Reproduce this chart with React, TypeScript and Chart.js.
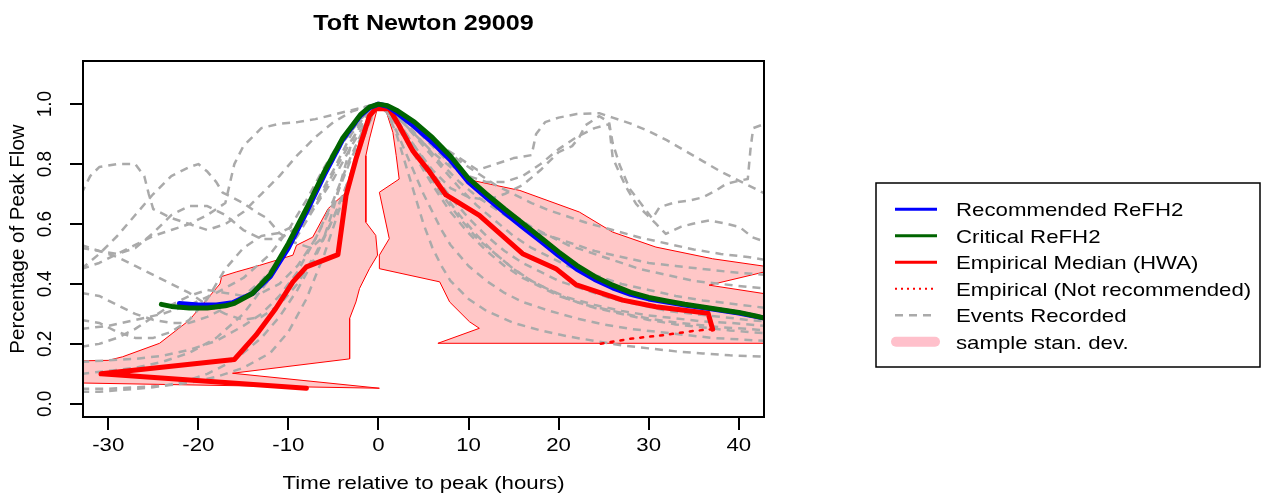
import React, { useEffect, useRef } from "react";
import { Chart, registerables } from "chart.js";
Chart.register(...registerables);

const W = 1263;
const H = 497;
const FONT = '"Liberation Sans", Arial, sans-serif';

const titleText = "Toft Newton 29009";
const xTitle = "Time relative to peak (hours)";
const yTitle = "Percentage of Peak Flow";
const xTicks = [-30, -20, -10, 0, 10, 20, 30, 40];
const yTicks = [0, 0.2, 0.4, 0.6, 0.8, 1.0];
const yTickLabels = ["0.0", "0.2", "0.4", "0.6", "0.8", "1.0"];
const legendLabels = [
  "Recommended ReFH2",
  "Critical ReFH2",
  "Empirical Median (HWA)",
  "Empirical (Not recommended)",
  "Events Recorded",
  "sample stan. dev.",
];

type P = [number, number];

const recommended: P[] = [
  [-22.1, 0.335], [-20, 0.33], [-18, 0.33], [-16.2, 0.337], [-14, 0.368], [-12, 0.425], [-10, 0.52],
  [-8, 0.64], [-6, 0.765], [-4, 0.88], [-2, 0.962], [-1, 0.988], [0, 1.0], [1, 0.993], [2, 0.972],
  [4, 0.925], [6, 0.872], [8, 0.813], [10, 0.74], [12, 0.688], [14, 0.638], [16, 0.59], [18, 0.543],
  [20, 0.495], [22, 0.45], [24, 0.415], [26, 0.387], [28, 0.365], [30, 0.35], [32, 0.34], [34, 0.33],
  [36, 0.321], [38, 0.312], [40, 0.303], [42, 0.291], [43, 0.285],
];

const critical: P[] = [
  [-24.1, 0.332], [-23, 0.325], [-21, 0.32], [-19, 0.32], [-17, 0.327], [-16, 0.335], [-14, 0.368],
  [-12, 0.432], [-10, 0.535], [-8, 0.651], [-6, 0.775], [-4, 0.885], [-2, 0.965], [-1, 0.99], [0, 1.0],
  [1, 0.995], [2, 0.98], [4, 0.94], [6, 0.888], [8, 0.826], [10, 0.752], [12, 0.7], [14, 0.65],
  [16, 0.603], [18, 0.555], [20, 0.507], [22, 0.462], [24, 0.425], [26, 0.396], [28, 0.372],
  [30, 0.355], [32, 0.343], [34, 0.332], [36, 0.323], [38, 0.314], [40, 0.305], [42, 0.292], [43, 0.285],
];

const medianHWA: P[] = [
  [-8, 0.052], [-30.8, 0.1], [-16, 0.148], [-13.6, 0.229], [-11.4, 0.318], [-9.5, 0.407], [-8, 0.457],
  [-4.5, 0.498], [-3.6, 0.695], [-2.5, 0.817], [-1, 0.961], [-0.3, 0.985], [1.2, 0.985], [2.3, 0.928],
  [3.8, 0.845], [5.7, 0.773], [7.5, 0.697], [11.2, 0.629], [16, 0.501], [19.7, 0.451], [21.9, 0.398],
  [27.1, 0.346], [30.8, 0.324], [36.6, 0.302], [37.1, 0.249],
];

const notRecommended: P[] = [
  [37.1, 0.249], [34.9, 0.243], [31.6, 0.229], [28.2, 0.218], [24.5, 0.2],
];

const bandLeft: P[] = [
  [-34, 0.143], [-30, 0.145], [-28.4, 0.157], [-24.3, 0.202], [-21, 0.279], [-17.6, 0.4], [-17.4, 0.425],
  [-15.8, 0.44], [-13.2, 0.462], [-9.5, 0.496], [-9.1, 0.529], [-7.3, 0.556], [-5.6, 0.651], [-3.6, 0.706],
  [-2.6, 0.82], [-1.7, 0.917], [-0.6, 0.978], [0, 1.0], [-1.0, 0.884], [-1.4, 0.828], [-1.4, 0.606],
  [-0.3, 0.562], [-0.1, 0.496], [-1.0, 0.451], [-2.1, 0.385], [-2.5, 0.34], [-3.2, 0.285], [-3.2, 0.15],
  [-16.2, 0.102], [0.1, 0.052], [-34, 0.07], [-34, 0.143],
];

const bandRight: P[] = [
  [0, 1.0], [2, 0.972], [4, 0.93], [6, 0.875], [8, 0.815], [10.5, 0.745], [15.7, 0.712], [22.3, 0.64],
  [26, 0.573], [30.8, 0.523], [37.1, 0.484], [44.5, 0.452], [36.7, 0.396], [44.5, 0.36], [44.5, 0.202],
  [6.6, 0.202], [11.2, 0.252], [10.1, 0.274], [7.9, 0.34], [6.8, 0.407], [0.1, 0.451], [0.1, 0.496],
  [1.2, 0.551], [0.1, 0.706], [2.3, 0.75], [1.97, 0.828], [1.6, 0.906], [0.9, 0.972], [0, 1.0],
];

const event1: P[] = [
  [-33, 0.7], [-32, 0.76], [-31, 0.79], [-29, 0.8], [-27, 0.8], [-26, 0.76], [-25.5, 0.7], [-25, 0.65],
  [-23, 0.62], [-21, 0.6], [-19, 0.58], [-17, 0.6], [-15, 0.64], [-13, 0.7], [-11, 0.76], [-9, 0.83],
  [-7, 0.89], [-5, 0.94], [-3, 0.975], [-1, 0.995], [0, 1], [1, 0.99], [3, 0.94], [5, 0.87], [7, 0.8],
  [9, 0.74], [11, 0.69], [13, 0.65], [15, 0.61], [17, 0.58], [19, 0.56], [21, 0.54], [24, 0.51],
  [27, 0.49], [30, 0.47], [33, 0.46], [36, 0.45], [39, 0.44], [43, 0.43],
];
const event2: P[] = [
  [-33, 0.45], [-31, 0.47], [-29, 0.5], [-27, 0.53], [-25, 0.56], [-23, 0.58], [-21, 0.6], [-19, 0.63],
  [-17, 0.67], [-16, 0.8], [-15, 0.86], [-13, 0.92], [-11, 0.935], [-9, 0.94], [-7, 0.95], [-5, 0.965],
  [-3, 0.98], [-1, 0.995], [0, 1], [1, 0.99], [3, 0.95], [5, 0.9], [7, 0.86], [9, 0.82], [11, 0.78],
  [13, 0.8], [15, 0.82], [17, 0.83], [17.5, 0.9], [18.5, 0.94], [20, 0.955], [22, 0.967], [24.5, 0.97],
  [26, 0.955], [28, 0.935], [30, 0.91], [32, 0.88], [34, 0.845], [36, 0.81], [38, 0.775], [40, 0.745],
  [42, 0.715], [43, 0.7],
];
const event3: P[] = [
  [-33, 0.25], [-30, 0.26], [-27, 0.28], [-24, 0.3], [-21, 0.33], [-18, 0.37], [-15, 0.42], [-12, 0.5],
  [-10, 0.58], [-8, 0.68], [-6, 0.79], [-4, 0.89], [-2, 0.96], [0, 1], [2, 0.95], [4, 0.86], [6, 0.78],
  [8, 0.72], [10, 0.69], [12, 0.68], [14, 0.7], [16, 0.73], [18, 0.78], [20, 0.84], [21.5, 0.86],
  [22.3, 0.89], [23, 0.93], [24.5, 0.96], [25.6, 0.94], [26, 0.87], [26.8, 0.795], [27.9, 0.717],
  [29.3, 0.662], [30.4, 0.618], [31.2, 0.656], [33, 0.673], [34.5, 0.678], [36, 0.689], [37.5, 0.712],
  [38.6, 0.734], [40.1, 0.745], [41, 0.75], [41.3, 0.85], [41.6, 0.92], [42.5, 0.93], [43, 0.93],
];
const event4: P[] = [
  [-33, 0.1], [-30, 0.11], [-27, 0.12], [-24, 0.14], [-21, 0.17], [-18, 0.22], [-15, 0.3], [-12, 0.42],
  [-10, 0.52], [-8, 0.64], [-6, 0.76], [-4, 0.87], [-2, 0.95], [0, 1], [2, 0.96], [4, 0.9], [6, 0.84],
  [8, 0.79], [10, 0.76], [12, 0.74], [14, 0.74], [16, 0.76], [18, 0.8], [20, 0.85], [22, 0.89],
  [24, 0.92], [25.6, 0.933], [26, 0.822], [26.8, 0.767], [27.5, 0.723], [28.6, 0.667], [29.7, 0.634],
  [30.8, 0.601], [31.9, 0.567], [33.5, 0.59], [34.9, 0.601], [36.7, 0.612], [38.6, 0.601], [40.1, 0.59],
  [41.5, 0.556], [43, 0.54],
];
const event5: P[] = [
  [-33, 0.45], [-31, 0.5], [-29, 0.56], [-27, 0.63], [-25, 0.7], [-23, 0.76], [-21, 0.79], [-20, 0.8],
  [-19, 0.775], [-18, 0.74], [-17.3, 0.705], [-15, 0.67], [-13.6, 0.64], [-12.4, 0.62], [-11, 0.57],
  [-9.5, 0.54], [-7.5, 0.52], [-6, 0.56], [-5, 0.65], [-4, 0.76], [-3, 0.87], [-2, 0.94], [-1, 0.98],
  [0, 1], [1, 0.99], [2, 0.95], [4, 0.86], [6, 0.77], [8, 0.69], [10, 0.62], [12, 0.56], [14, 0.51],
  [16, 0.47], [18, 0.44], [20, 0.41], [23, 0.38], [26, 0.35], [29, 0.33], [32, 0.31], [35, 0.3],
  [38, 0.29], [41, 0.28], [43, 0.275],
];
const event6: P[] = [
  [-33, 0.05], [-30, 0.05], [-27, 0.055], [-24, 0.06], [-21, 0.07], [-18, 0.09], [-15, 0.12], [-12, 0.17],
  [-10, 0.24], [-8, 0.35], [-6, 0.5], [-4, 0.68], [-2, 0.87], [-1, 0.95], [0, 1], [1, 0.97], [2, 0.9],
  [3, 0.8], [4, 0.7], [5, 0.6], [6, 0.52], [7, 0.46], [8, 0.41], [10, 0.35], [12, 0.31], [15, 0.27],
  [18, 0.245], [21, 0.225], [24, 0.21], [27, 0.195], [30, 0.185], [33, 0.175], [36, 0.168], [39, 0.162],
  [43, 0.157],
];
const event7: P[] = [
  [-33, 0.37], [-31, 0.36], [-29, 0.33], [-27, 0.3], [-25, 0.28], [-23, 0.27], [-21, 0.27], [-19, 0.29],
  [-17, 0.32], [-15, 0.36], [-13, 0.41], [-11, 0.48], [-9, 0.56], [-7, 0.66], [-5, 0.77], [-3, 0.88],
  [-1, 0.97], [0, 1], [1, 0.98], [3, 0.9], [5, 0.8], [7, 0.71], [9, 0.63], [11, 0.56], [13, 0.5],
  [15, 0.45], [17, 0.41], [19, 0.38], [21, 0.355], [24, 0.33], [27, 0.31], [30, 0.295], [33, 0.285],
  [36, 0.275], [39, 0.27], [43, 0.26],
];
const event8: P[] = [
  [-33, 0.19], [-31, 0.2], [-29, 0.22], [-27, 0.25], [-25, 0.29], [-23, 0.33], [-21, 0.36], [-19, 0.38],
  [-17, 0.37], [-15, 0.36], [-13, 0.37], [-11, 0.4], [-9, 0.46], [-7, 0.55], [-5, 0.67], [-3, 0.82],
  [-1, 0.95], [0, 1], [1, 0.985], [3, 0.93], [5, 0.86], [7, 0.79], [9, 0.72], [11, 0.66], [13, 0.61],
  [15, 0.56], [17, 0.52], [19, 0.49], [21, 0.46], [24, 0.43], [27, 0.4], [30, 0.38], [33, 0.36],
  [36, 0.345], [39, 0.335], [43, 0.32],
];
const event9: P[] = [
  [-33, 0.14], [-30, 0.145], [-27, 0.15], [-24, 0.16], [-21, 0.18], [-18, 0.21], [-15, 0.26], [-13, 0.3],
  [-11, 0.36], [-9, 0.44], [-7, 0.55], [-5, 0.68], [-3, 0.83], [-1, 0.96], [0, 1], [1, 0.97], [2, 0.91],
  [3, 0.84], [4, 0.77], [5, 0.7], [6, 0.64], [7, 0.58], [8, 0.53], [10, 0.46], [12, 0.41], [14, 0.37],
  [16, 0.34], [19, 0.31], [22, 0.285], [25, 0.265], [28, 0.25], [31, 0.24], [34, 0.23], [37, 0.22],
  [40, 0.215], [43, 0.21],
];
const event10: P[] = [
  [-33, 0.28], [-31, 0.27], [-29, 0.24], [-27, 0.22], [-25, 0.22], [-23, 0.24], [-21, 0.28], [-19, 0.35],
  [-17, 0.45], [-15, 0.52], [-13, 0.56], [-11, 0.57], [-9, 0.6], [-7, 0.66], [-5, 0.75], [-3, 0.86],
  [-1, 0.96], [0, 1], [1, 0.99], [3, 0.95], [5, 0.89], [7, 0.83], [9, 0.77], [11, 0.72], [13, 0.67],
  [15, 0.63], [17, 0.59], [19, 0.56], [21, 0.53], [23, 0.51], [26, 0.48], [29, 0.45], [32, 0.43],
  [35, 0.41], [38, 0.4], [41, 0.39], [43, 0.385],
];
const event11: P[] = [
  [-33, 0.52], [-31, 0.51], [-29, 0.49], [-27, 0.46], [-25, 0.43], [-23, 0.4], [-21, 0.37], [-19, 0.33],
  [-17, 0.3], [-15, 0.28], [-13, 0.29], [-11, 0.33], [-9, 0.4], [-7, 0.5], [-5, 0.62], [-3, 0.77],
  [-2, 0.86], [-1, 0.94], [0, 1], [1, 0.98], [2, 0.93], [4, 0.83], [6, 0.73], [8, 0.64], [10, 0.57],
  [12, 0.51], [14, 0.46], [16, 0.42], [18, 0.39], [20, 0.36], [23, 0.33], [26, 0.31], [29, 0.29],
  [32, 0.275], [35, 0.265], [38, 0.255], [41, 0.25], [43, 0.245],
];
const event12: P[] = [
  [-33, 0.04], [-31, 0.04], [-29, 0.045], [-27, 0.05], [-25, 0.055], [-23, 0.065], [-21, 0.08], [-19, 0.1],
  [-17, 0.13], [-15, 0.17], [-13, 0.22], [-11, 0.29], [-9, 0.38], [-7, 0.49], [-5, 0.62], [-3, 0.77],
  [-2, 0.86], [-1, 0.94], [0, 1], [1, 0.98], [2, 0.94], [3, 0.89], [5, 0.79], [7, 0.7], [9, 0.62],
  [11, 0.55], [13, 0.5], [15, 0.45], [17, 0.41], [19, 0.38], [21, 0.35], [24, 0.32], [27, 0.3],
  [30, 0.28], [33, 0.265], [36, 0.255], [39, 0.245], [43, 0.235],
];
const event13: P[] = [
  [-33, 0.53], [-31, 0.51], [-29, 0.5], [-27, 0.52], [-25, 0.57], [-23, 0.63], [-21, 0.66], [-19, 0.66],
  [-17, 0.63], [-15, 0.58], [-13, 0.55], [-11, 0.55], [-9, 0.59], [-7, 0.67], [-5, 0.78], [-3, 0.9],
  [-1, 0.98], [0, 1], [1, 0.995], [3, 0.96], [5, 0.91], [7, 0.86], [9, 0.81], [11, 0.77], [13, 0.73],
  [15, 0.7], [17, 0.67], [19, 0.645], [21, 0.625], [23, 0.605], [26, 0.58], [29, 0.555], [32, 0.535],
  [35, 0.515], [38, 0.5], [41, 0.49], [43, 0.48],
];

const events: P[][] = [
  event1, event2, event3, event4, event5, event6, event7, event8, event9, event10, event11, event12, event13,
];

const toXY = (arr: P[]) => arr.map(([x, y]) => ({ x, y }));

function drawText(
  ctx: CanvasRenderingContext2D,
  s: string,
  x: number,
  y: number,
  font: string,
  opts: { sx?: number; sy?: number; rot?: number; align?: CanvasTextAlign } = {}
) {
  ctx.save();
  ctx.translate(x, y);
  if (opts.rot) ctx.rotate(opts.rot);
  ctx.scale(opts.sx ?? 1, opts.sy ?? 1);
  ctx.font = font;
  ctx.textAlign = opts.align ?? "left";
  ctx.textBaseline = "alphabetic";
  ctx.fillStyle = "#000";
  ctx.fillText(s, 0, 0);
  ctx.restore();
}

const SX = 1.17;

const decorPlugin = {
  id: "rdecor",
  beforeDatasetsDraw(chart: any) {
    const ctx: CanvasRenderingContext2D = chart.ctx;
    const a = chart.chartArea;
    ctx.save();
    ctx.beginPath();
    ctx.rect(a.left, a.top, a.right - a.left, a.bottom - a.top);
    ctx.clip();
    chart.data.datasets.forEach((ds: any, i: number) => {
      if (!ds.bandFill) return;
      const pts = chart.getDatasetMeta(i).data;
      ctx.beginPath();
      pts.forEach((p: any, j: number) => (j ? ctx.lineTo(p.x, p.y) : ctx.moveTo(p.x, p.y)));
      ctx.closePath();
      ctx.fillStyle = ds.bandFill;
      ctx.fill();
    });
    ctx.restore();
  },
  afterDraw(chart: any) {
    const ctx: CanvasRenderingContext2D = chart.ctx;
    const a = chart.chartArea;
    const xs = chart.scales.x;
    const ys = chart.scales.y;
    // box
    ctx.save();
    ctx.strokeStyle = "#000";
    ctx.lineWidth = 2;
    ctx.strokeRect(a.left, a.top, a.right - a.left, a.bottom - a.top);
    ctx.restore();

    const f19 = `19px ${FONT}`;
    drawText(ctx, titleText, (a.left + a.right) / 2, 29.5, `bold 21.5px ${FONT}`, { sx: SX, align: "center" });
    xTicks.forEach((v) => {
      drawText(ctx, String(v), xs.getPixelForValue(v), 451, f19, { sx: SX, align: "center" });
    });
    drawText(ctx, xTitle, (a.left + a.right) / 2, 489, f19, { sx: SX, align: "center" });
    yTicks.forEach((v, i) => {
      drawText(ctx, yTickLabels[i], 51, ys.getPixelForValue(v), f19, {
        rot: -Math.PI / 2,
        sy: 1.05,
        align: "center",
      });
    });
    drawText(ctx, yTitle, 23.5, (a.top + a.bottom) / 2, f19, { rot: -Math.PI / 2, sy: 1.05, sx: 1.08, align: "center" });

    // legend
    const L = 876, T = 183, R = 1260, B = 367;
    ctx.save();
    ctx.fillStyle = "#fff";
    ctx.fillRect(L, T, R - L, B - T);
    ctx.strokeStyle = "#000";
    ctx.lineWidth = 1.5;
    ctx.strokeRect(L, T, R - L, B - T);
    const rows = [209.3, 235.8, 262.3, 288.8, 315.3, 341.8];
    const styles = [
      { c: "#0000ff", w: 3, d: [] as number[] },
      { c: "#006400", w: 3, d: [] as number[] },
      { c: "#ff0000", w: 3, d: [] as number[] },
      { c: "#ff0000", w: 2, d: [2, 4] },
      { c: "#aaaaaa", w: 2.5, d: [8, 6] },
      { c: "#ffc0cb", w: 10, d: [] as number[] },
    ];
    styles.forEach((s, i) => {
      ctx.beginPath();
      ctx.strokeStyle = s.c;
      ctx.lineWidth = s.w;
      ctx.setLineDash(s.d);
      ctx.lineCap = i === 5 ? "round" : "butt";
      ctx.moveTo(i === 5 ? 896 : 895, rows[i]);
      ctx.lineTo(i === 5 ? 935 : 937, rows[i]);
      ctx.stroke();
    });
    ctx.setLineDash([]);
    ctx.restore();
    legendLabels.forEach((s, i) => drawText(ctx, s, 956, rows[i] + 6.8, f19, { sx: SX }));
  },
};

export default function App() {
  const ref = useRef<HTMLCanvasElement | null>(null);
  useEffect(() => {
    const prevMargin = document.body.style.margin;
    document.body.style.margin = "0";
    const canvas = ref.current!;
    const lineBase = { pointRadius: 0, tension: 0, clip: 0, borderCapStyle: "round", borderJoinStyle: "round", fill: false };
    const datasets: any[] = [
      { ...lineBase, label: legendLabels[1], data: toXY(critical), borderColor: "#006400", borderWidth: 5, order: 0 },
      { ...lineBase, label: legendLabels[0], data: toXY(recommended), borderColor: "#0000ff", borderWidth: 5, order: 1 },
      { ...lineBase, label: legendLabels[2], data: toXY(medianHWA), borderColor: "#ff0000", borderWidth: 5, order: 2 },
      {
        ...lineBase,
        label: legendLabels[3],
        data: toXY(notRecommended),
        borderColor: "#ff0000",
        borderWidth: 2.5,
        borderDash: [3, 7],
        order: 3,
      },
      ...events.map((e, i) => ({
        ...lineBase,
        label: i === 0 ? legendLabels[4] : "",
        data: toXY(e),
        borderColor: "#aaaaaa",
        borderWidth: 2.5,
        borderDash: [8, 6],
        borderCapStyle: "butt",
        order: 4,
      })),
      {
        ...lineBase,
        label: legendLabels[5],
        data: toXY(bandLeft),
        borderColor: "#ff0000",
        borderWidth: 1,
        bandFill: "rgba(255,0,0,0.22)",
        order: 5,
      },
      {
        ...lineBase,
        label: "",
        data: toXY(bandRight),
        borderColor: "#ff0000",
        borderWidth: 1,
        bandFill: "rgba(255,0,0,0.22)",
        order: 5,
      },
    ];
    const axisCommon = {
      type: "linear" as const,
      ticks: { display: false },
      grid: { drawOnChartArea: false, drawTicks: true, tickLength: 13, color: "#000", lineWidth: 2 },
      border: { display: true, color: "#000", width: 2 },
    };
    const chart = new Chart(canvas, {
      type: "line",
      data: { datasets },
      options: {
        responsive: false,
        animation: false,
        devicePixelRatio: 1,
        events: [],
        parsing: true,
        layout: { padding: { left: 0, top: 61, right: 499, bottom: 0 } },
        plugins: { legend: { display: false }, title: { display: false }, tooltip: { enabled: false } },
        scales: {
          x: {
            ...axisCommon,
            min: -32.8,
            max: 42.8,
            afterBuildTicks: (s: any) => {
              s.ticks = xTicks.map((value) => ({ value }));
            },
            afterFit: (s: any) => {
              s.height = 80;
            },
          },
          y: {
            ...axisCommon,
            min: -0.044,
            max: 1.144,
            afterBuildTicks: (s: any) => {
              s.ticks = yTicks.map((value) => ({ value }));
            },
            afterFit: (s: any) => {
              s.width = 83;
            },
          },
        },
      } as any,
      plugins: [decorPlugin],
    });
    return () => {
      chart.destroy();
      document.body.style.margin = prevMargin;
    };
  }, []);
  return (
    <div style={{ position: "absolute", left: 0, top: 0, width: W, height: H, background: "#fff" }}>
      <canvas ref={ref} width={W} height={H} style={{ display: "block", width: W, height: H }} />
    </div>
  );
}
